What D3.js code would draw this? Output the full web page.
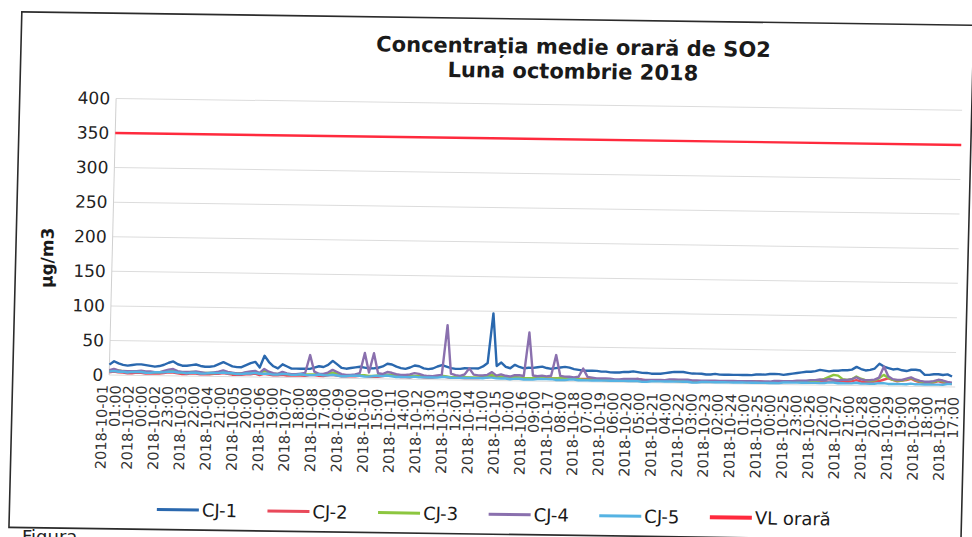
<!DOCTYPE html>
<html>
<head>
<meta charset="utf-8">
<script src="https://cdnjs.cloudflare.com/ajax/libs/d3/7.8.5/d3.min.js"></script>
<style>
body { margin: 0; background: #fff; }
svg { display: block; font-family: "DejaVu Sans", sans-serif; }
.grid line { stroke: #dcdcdc; stroke-width: 1; }
.line { fill: none; stroke-width: 2.4; stroke-linejoin: round; }
</style>
</head>
<body>
<div id="visualisation"></div>
<script>
// hourly series, every 4 hours (one row = one day)
var sampleStep = 4;

var cj1 = [
  15,20,17,15,14,15, 16,16,15,14,13,14, 16,19,21,17,15,15, 16,17,15,14,14,15,
  18,21,18,15,14,14, 17,20,22,14,31,22, 16,13,19,16,13,13, 13,13,13,15,17,16,
  19,25,20,15,14,15, 16,17,16,15,15,16, 18,22,21,18,16,15, 17,20,19,16,15,16,
  19,21,19,17,16,16, 17,17,17,17,20,25, 97,21,26,20,18,23, 20,18,19,19,20,21,
  19,18,19,20,21,20, 18,17,16,16,16,16, 15,15,14,14,14,15, 15,16,15,14,14,13,
  13,13,14,15,16,16, 16,15,14,14,14,13, 13,14,13,13,13,13, 13,13,13,13,14,14,
  14,15,15,15,14,15, 16,17,18,19,19,20, 22,21,20,21,21,22, 22,23,27,24,22,23,
  25,32,28,26,24,25, 23,22,24,24,23,17, 17,18,18,17,18,15
];
var cj2 = [
  4,5,4,4,3,3, 4,4,3,3,3,3, 4,5,5,4,3,3, 4,4,3,3,3,4,
  4,5,4,3,3,3, 4,4,5,3,5,4, 3,3,4,3,3,3, 3,3,4,4,3,3,
  4,5,4,3,3,3, 3,4,4,3,3,3, 4,5,5,4,3,3, 3,4,4,3,3,3,
  4,5,4,3,3,3, 3,3,3,3,4,4, 6,4,5,4,4,5, 4,4,4,4,5,5,
  4,4,4,5,5,4, 4,4,4,4,4,4, 3,3,3,3,3,3, 4,4,5,4,3,3,
  3,3,3,3,3,3, 3,3,3,3,3,3, 3,3,3,3,3,3, 3,3,3,4,4,4,
  3,3,3,3,4,4, 4,5,5,4,4,5, 6,5,5,5,6,6, 5,6,8,6,5,5,
  6,7,9,11,9,7, 8,9,11,8,6,5, 5,6,8,6,5,4
];
var cj3 = [
  6,8,7,6,5,5, 6,6,5,5,5,5, 6,7,8,6,5,5, 6,6,5,5,5,5,
  6,7,6,5,5,5, 6,7,8,5,10,7, 5,5,6,5,5,5, 5,5,5,5,6,5,
  6,8,7,5,4,4, 5,5,5,4,4,5, 5,6,6,5,4,4, 5,5,5,4,4,4,
  5,6,5,4,4,4, 4,4,4,4,5,6, 8,5,6,5,4,5, 5,4,4,4,5,5,
  4,4,4,5,5,4, 4,4,3,3,3,3, 3,3,3,3,3,3, 3,3,3,3,3,3,
  3,3,3,3,3,3, 3,3,3,3,3,3, 3,3,3,3,3,3, 3,3,3,3,3,3,
  3,3,3,4,4,4, 4,5,5,5,6,6, 7,9,12,15,14,9, 8,9,13,10,8,7,
  8,11,16,12,9,8, 8,10,12,9,7,6, 6,7,9,8,6,5
];
var cj4 = [
  7,9,7,6,6,6, 6,7,6,6,5,5, 7,9,10,7,6,6, 6,7,6,5,5,6,
  7,9,7,6,5,5, 7,8,9,6,12,8, 6,5,8,6,5,5, 6,7,33,9,6,6,
  8,12,9,6,5,5, 6,8,37,9,37,8, 7,10,9,7,6,6, 7,9,8,6,5,5,
  6,7,79,9,7,6, 8,17,8,7,7,8, 12,7,9,7,6,8, 8,7,70,8,7,8,
  7,8,38,8,7,7, 6,7,19,7,6,5, 5,5,5,4,4,5, 5,5,5,4,4,4,
  4,4,4,5,5,5, 5,5,4,4,4,4, 4,4,4,4,4,4, 4,4,4,4,4,4,
  4,4,5,5,5,5, 5,6,6,6,7,7, 8,7,9,8,7,8, 8,9,12,9,8,8,
  9,12,28,14,10,9, 9,11,13,10,8,7, 7,8,10,9,7,6
];
var cj5 = [
  5,6,5,5,4,5, 5,5,4,4,5,5, 5,6,6,5,5,4, 5,5,4,4,5,5,
  5,6,5,5,4,4, 5,5,6,5,5,5, 4,4,5,5,4,4, 5,4,4,4,5,4,
  4,5,4,3,3,4, 4,4,3,3,4,4, 4,5,4,3,3,3, 3,4,3,3,3,3,
  3,4,4,3,3,3, 3,3,3,3,3,4, 4,3,3,3,2,3, 3,2,2,2,3,3,
  3,3,2,2,2,3, 3,2,2,2,2,2, 2,2,2,2,2,2, 2,2,2,1,1,2,
  2,2,2,2,2,2, 2,2,1,1,2,2, 2,2,2,2,2,2, 2,2,2,2,2,2,
  2,2,2,2,3,3, 3,3,3,3,3,3, 3,3,4,4,3,3, 3,3,4,3,3,3,
  3,4,4,3,3,3, 3,3,4,3,3,3, 3,3,3,3,4,4
];

// hourly limit value
var vlHours = [0, 743];
var vlValues = [350, 350];

var seriesNames = ["CJ-1", "CJ-2", "CJ-3", "CJ-4", "CJ-5", "VL orară"];
var seriesColors = ["#2a68ae", "#e9495a", "#8cc63f", "#8a70ae", "#55b3e3", "#ff2a3d"];

var yTicks = [0, 50, 100, 150, 200, 250, 300, 350, 400];

// category labels, one every 23 hours
var tickStep = 23;
var tickDates = ["2018-10-01","2018-10-02","2018-10-02","2018-10-03","2018-10-04","2018-10-05",
  "2018-10-06","2018-10-07","2018-10-08","2018-10-09","2018-10-10","2018-10-11","2018-10-12",
  "2018-10-13","2018-10-14","2018-10-15","2018-10-16","2018-10-17","2018-10-18","2018-10-19",
  "2018-10-20","2018-10-21","2018-10-22","2018-10-23","2018-10-24","2018-10-25","2018-10-25",
  "2018-10-26","2018-10-27","2018-10-28","2018-10-29","2018-10-30","2018-10-31"];
var tickHours = ["01:00","00:00","23:00","22:00","21:00","20:00","19:00","18:00","17:00","16:00",
  "15:00","14:00","13:00","12:00","11:00","10:00","09:00","08:00","07:00","06:00","05:00","04:00",
  "03:00","02:00","01:00","00:00","23:00","22:00","21:00","20:00","19:00","18:00","17:00"];

var width = 972, height = 537;
var plot = { left: 112, right: 958, top: 103.7, bottom: 380.3 };

var x = d3.scaleLinear().domain([0, 743]).range([plot.left, plot.right]);
var y = d3.scaleLinear().domain([0, 400]).range([plot.bottom, plot.top]);

var svg = d3.select("#visualisation")
      .append("svg")
      .attr("width", width)
      .attr("height", height);

// the scanned page is a bit skewed, so the whole chart gets the same skew
var g = svg.append("g")
      .attr("transform", "matrix(1,0.0141,-0.025,1,6.7,-6.85)");

// chart frame
g.append("rect")
      .attr("x", 15.6)
      .attr("y", 18.5)
      .attr("width", 952)
      .attr("height", 515.5)
      .attr("fill", "none")
      .attr("stroke", "#2b2b2b")
      .attr("stroke-width", 1.6);

// title
var title = g.append("text")
      .attr("text-anchor", "middle")
      .style("font-size", "21px")
      .style("font-weight", "bold")
      .attr("fill", "#1a1a1a");
title.append("tspan").attr("x", 568).attr("y", 53).text("Concentrația medie orară de SO2");
title.append("tspan").attr("x", 568).attr("y", 77.5).text("Luna octombrie 2018");

// horizontal gridlines
g.append("g")
      .attr("class", "grid")
      .selectAll("line")
      .data(yTicks)
      .enter().append("line")
      .attr("x1", plot.left)
      .attr("x2", plot.right)
      .attr("y1", function (d) { return y(d); })
      .attr("y2", function (d) { return y(d); });

g.append("line")
      .attr("x1", plot.left).attr("x2", plot.left)
      .attr("y1", plot.top).attr("y2", plot.bottom)
      .attr("stroke", "#d0d0d0");

// y axis
var yAxis = d3.axisLeft(y).tickValues(yTicks).tickSize(0).tickPadding(6);
var yG = g.append("g")
      .attr("transform", "translate(" + plot.left + ",0)")
      .call(yAxis);
yG.select(".domain").remove();
yG.selectAll("text")
      .style("font-family", "DejaVu Sans")
      .style("font-size", "17px")
      .attr("fill", "#222");

// y axis title
g.append("text")
      .attr("transform", "translate(53,264) rotate(-90)")
      .attr("text-anchor", "middle")
      .style("font-size", "17px")
      .style("font-weight", "bold")
      .attr("fill", "#1a1a1a")
      .text("µg/m3");

// x category labels (rotated, two lines, they crowd each other like in the original)
var xLab = g.append("g").selectAll("text")
      .data(tickDates)
      .enter().append("text")
      .attr("transform", function (d, i) {
            return "translate(" + x(i * tickStep) + "," + (plot.bottom + 10) + ") rotate(-90)";
      })
      .attr("text-anchor", "end")
      .style("font-size", "14.5px")
      .attr("fill", "#333");
xLab.append("tspan").attr("x", 0).attr("y", -1.3).text(function (d) { return d; });
xLab.append("tspan").attr("x", 0).attr("y", 11.7).text(function (d, i) { return tickHours[i]; });

// series lines
var line = d3.line()
      .x(function (d, i) { return x(i * sampleStep); })
      .y(function (d) { return y(d); });

[cj1, cj2, cj3, cj4, cj5].forEach(function (s, k) {
      g.append("path")
            .attr("class", "line")
            .attr("stroke", seriesColors[k])
            .attr("d", line(s));
});

var vlLine = d3.line()
      .x(function (d, i) { return x(vlHours[i]); })
      .y(function (d) { return y(d); });
g.append("path")
      .attr("class", "line")
      .attr("stroke", seriesColors[5])
      .attr("stroke-width", 4)
      .attr("d", vlLine(vlValues));

// legend
var legend = g.append("g").selectAll("g")
      .data(seriesNames)
      .enter().append("g")
      .attr("transform", function (d, i) { return "translate(" + (163 + i * 110.6) + ",514)"; });
legend.append("line")
      .attr("x1", 0).attr("x2", 42)
      .attr("stroke", function (d, i) { return seriesColors[i]; })
      .attr("stroke-width", function (d, i) { return i == 5 ? 4 : 3; });
legend.append("text")
      .attr("x", 45)
      .attr("dy", "0.36em")
      .style("font-size", "18px")
      .attr("fill", "#1a1a1a")
      .text(function (d) { return d; });

// caption under the frame, cut by the page edge as on the scan
svg.append("text")
      .attr("x", 22)
      .attr("y", 543)
      .style("font-size", "18px")
      .attr("fill", "#222")
      .text("Figura");
</script>
</body>
</html>
